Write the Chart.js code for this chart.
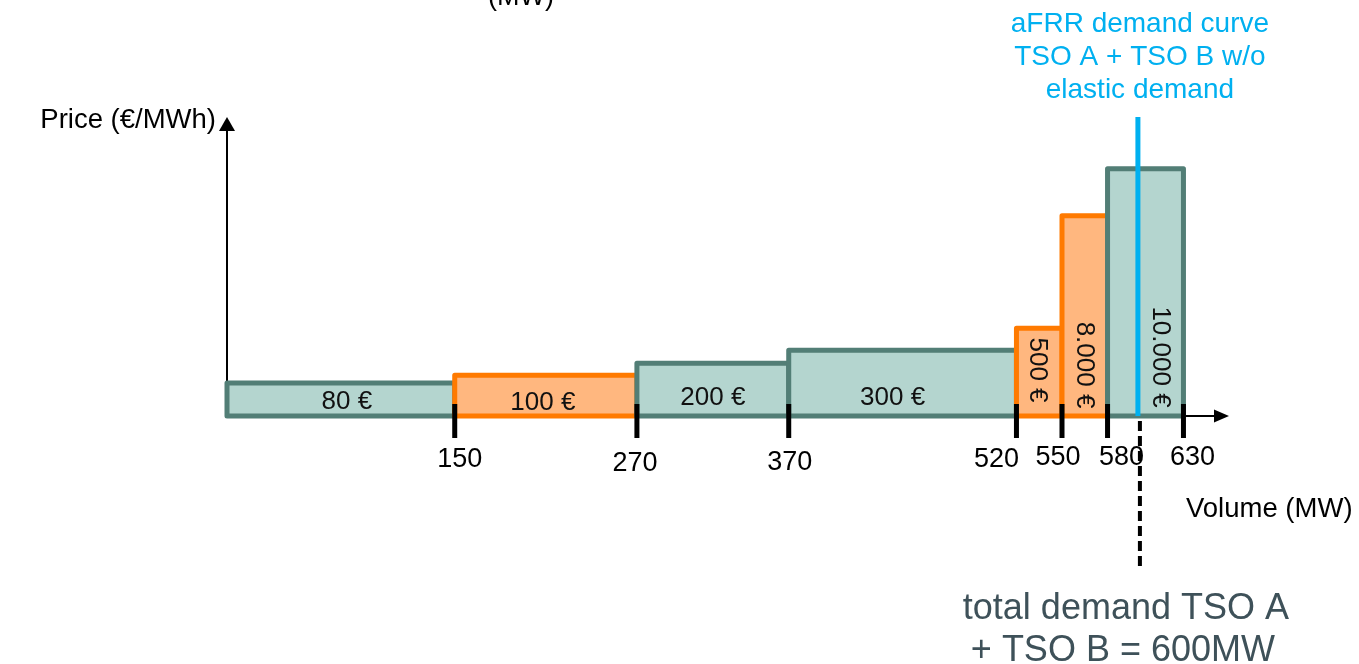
<!DOCTYPE html>
<html>
<head>
<meta charset="utf-8">
<title>aFRR merit order</title>
<script src="https://cdn.jsdelivr.net/npm/chart.js@4/dist/chart.umd.min.js"></script>
<style>
  html, body { margin: 0; padding: 0; background: #ffffff; }
  canvas { display: block; }
</style>
</head>
<body>
<canvas id="meritOrder" width="1359" height="664"></canvas>
<script>
// Cumulative volume boundaries of the offers (MW)
const volumeSteps = [0, 150, 270, 370, 520, 550, 580, 630];
// Offer prices (€/MWh) and their labels
const offerPrices = [80, 100, 200, 300, 500, 8000, 10000];
const priceLabels = ['80 €', '100 €', '200 €', '300 €', '500 €', '8.000 €', '10.000 €'];
// Schematic step heights (the price axis is not to scale)
const stepHeights = [33, 41, 53, 66, 88, 201, 248];
// TSO that submitted each offer
const offerTso = ['B', 'A', 'B', 'B', 'A', 'A', 'B'];
// Volume axis tick labels
const tickValues = [150, 270, 370, 520, 550, 580, 630];
// Total aFRR demand TSO A + TSO B (MW)
const totalDemand = 600;

// ---- styling ----
const FONT = '"Liberation Sans", Arial, Helvetica, sans-serif';
const X_MAX = 660;
const Y_MAX = 300;
const tsoStyle = {
  A: { fill: '#ffb77f', line: '#ff7a00' },
  B: { fill: '#b4d5cf', line: '#527e76' }
};
const demandColor = '#00b0f0';
const noteColor = '#3e5159';

// where each price label sits, relative to the bottom centre of its step
const labelPlacement = [
  { dx: 6,   dy: -15, rotate: false },
  { dx: -3,  dy: -14, rotate: false },
  { dx: 0,   dy: -19, rotate: false },
  { dx: -10, dy: -19, rotate: false },
  { dx: -1,  dy: -46, rotate: true },
  { dx: 0,   dy: -51, rotate: true },
  { dx: 16,  dy: -59, rotate: true }
];
// small hand offsets of the volume tick labels
const tickLabelShift = {
  150: { dx: 5, dy: 0 }, 270: { dx: -2, dy: 4 }, 370: { dx: 1, dy: 3 },
  520: { dx: -20, dy: 0 }, 550: { dx: -4, dy: -2 }, 580: { dx: 14, dy: -2 }, 630: { dx: 9, dy: -2 }
};

// one closed rectangle per offer step
const stepDatasets = offerPrices.map((price, i) => {
  const x0 = volumeSteps[i];
  const x1 = volumeSteps[i + 1];
  const h = stepHeights[i];
  const st = tsoStyle[offerTso[i]];
  return {
    label: priceLabels[i],
    data: [
      { x: x0, y: 0 }, { x: x0, y: h }, { x: x1, y: h }, { x: x1, y: 0 }, { x: x0, y: 0 }
    ],
    borderColor: st.line,
    backgroundColor: st.fill,
    borderWidth: 5,
    borderJoinStyle: 'round',
    borderCapStyle: 'round',
    fill: 'shape',
    tension: 0,
    pointRadius: 0,
    order: 20 - i,
    clip: false
  };
});

// vertical aFRR demand curve (inelastic)
const demandDataset = {
  label: 'aFRR demand curve',
  data: [{ x: totalDemand, y: 0 }, { x: totalDemand, y: Y_MAX }],
  borderColor: demandColor,
  borderWidth: 5,
  fill: false,
  pointRadius: 0,
  order: 0,
  clip: false
};

function arrowHead(ctx, tipX, tipY, dirX, dirY, len, half) {
  const bx = tipX - dirX * len, by = tipY - dirY * len;
  ctx.beginPath();
  ctx.moveTo(tipX, tipY);
  ctx.lineTo(bx - dirY * half, by + dirX * half);
  ctx.lineTo(bx + dirY * half, by - dirX * half);
  ctx.closePath();
  ctx.fill();
}

const diagramLayer = {
  id: 'diagramLayer',
  beforeDatasetsDraw(chart) {
    const { ctx, chartArea: ca, scales: { x, y } } = chart;
    const ox = x.getPixelForValue(0);
    const oy = y.getPixelForValue(0);
    ctx.save();
    ctx.strokeStyle = '#000';
    ctx.fillStyle = '#000';
    ctx.lineWidth = 2;
    // price axis
    ctx.beginPath();
    ctx.moveTo(ox, oy);
    ctx.lineTo(ox, ca.top + 12);
    ctx.stroke();
    arrowHead(ctx, ox, ca.top, 0, -1, 14, 8);
    // volume axis
    ctx.beginPath();
    ctx.moveTo(ox, oy);
    ctx.lineTo(ca.right - 12, oy);
    ctx.stroke();
    arrowHead(ctx, ca.right, oy, 1, 0, 15, 6.5);
    ctx.restore();
  },
  afterDatasetsDraw(chart) {
    const { ctx, scales: { x, y } } = chart;
    const oy = y.getPixelForValue(0);
    ctx.save();

    // tick marks and labels on the volume axis
    ctx.fillStyle = '#000';
    ctx.font = '27px ' + FONT;
    ctx.textAlign = 'center';
    ctx.textBaseline = 'alphabetic';
    tickValues.forEach(v => {
      const px = x.getPixelForValue(v);
      ctx.fillRect(px - 2.5, oy - 12, 5, 34);
      const s = tickLabelShift[v] || { dx: 0, dy: 0 };
      ctx.fillText(String(v), px + s.dx, oy + 51 + s.dy);
    });

    // price labels inside the steps
    ctx.font = '26px ' + FONT;
    ctx.fillStyle = '#111';
    ctx.textBaseline = 'middle';
    priceLabels.forEach((txt, i) => {
      const mid = x.getPixelForValue((volumeSteps[i] + volumeSteps[i + 1]) / 2);
      const p = labelPlacement[i];
      ctx.save();
      ctx.translate(mid + p.dx, oy + p.dy);
      if (p.rotate) ctx.rotate(Math.PI / 2);
      ctx.fillText(txt, 0, 1);
      ctx.restore();
    });

    // total demand marker below the axis
    const dx = x.getPixelForValue(totalDemand);
    ctx.strokeStyle = '#000';
    ctx.lineWidth = 4;
    ctx.setLineDash([10, 5]);
    ctx.beginPath();
    ctx.moveTo(dx + 2, oy + 5);
    ctx.lineTo(dx + 2, oy + 150);
    ctx.stroke();
    ctx.setLineDash([]);

    // axis titles
    ctx.textBaseline = 'alphabetic';
    ctx.fillStyle = '#000';
    ctx.font = '27.5px ' + FONT;
    ctx.textAlign = 'right';
    ctx.fillText('Price (€/MWh)', 216, 128);
    ctx.textAlign = 'left';
    ctx.fillText('Volume (MW)', 1186, 517);
    ctx.textAlign = 'center';
    ctx.font = '27px ' + FONT;
    ctx.fillText('(MW)', 521, 5);

    // demand curve caption
    ctx.fillStyle = demandColor;
    ctx.font = '28px ' + FONT;
    ['aFRR demand curve', 'TSO A + TSO B w/o', 'elastic demand'].forEach((t, k) => {
      ctx.fillText(t, dx + 2, 32 + k * 33);
    });

    // total demand note
    ctx.fillStyle = noteColor;
    ctx.font = '36px ' + FONT;
    ctx.fillText('total demand TSO A', dx - 12, 619);
    ctx.fillText('+ TSO B = 600MW', dx - 15, 661);

    ctx.restore();
  }
};

new Chart(document.getElementById('meritOrder'), {
  type: 'line',
  data: { datasets: [...stepDatasets, demandDataset] },
  options: {
    responsive: false,
    animation: false,
    devicePixelRatio: 1,
    parsing: true,
    layout: { padding: { left: 227, right: 130, top: 117, bottom: 248 } },
    scales: {
      x: { type: 'linear', min: 0, max: X_MAX, display: false },
      y: { type: 'linear', min: 0, max: Y_MAX, display: false }
    },
    plugins: {
      legend: { display: false },
      tooltip: { enabled: false }
    },
    events: []
  },
  plugins: [diagramLayer]
});
</script>
</body>
</html>
